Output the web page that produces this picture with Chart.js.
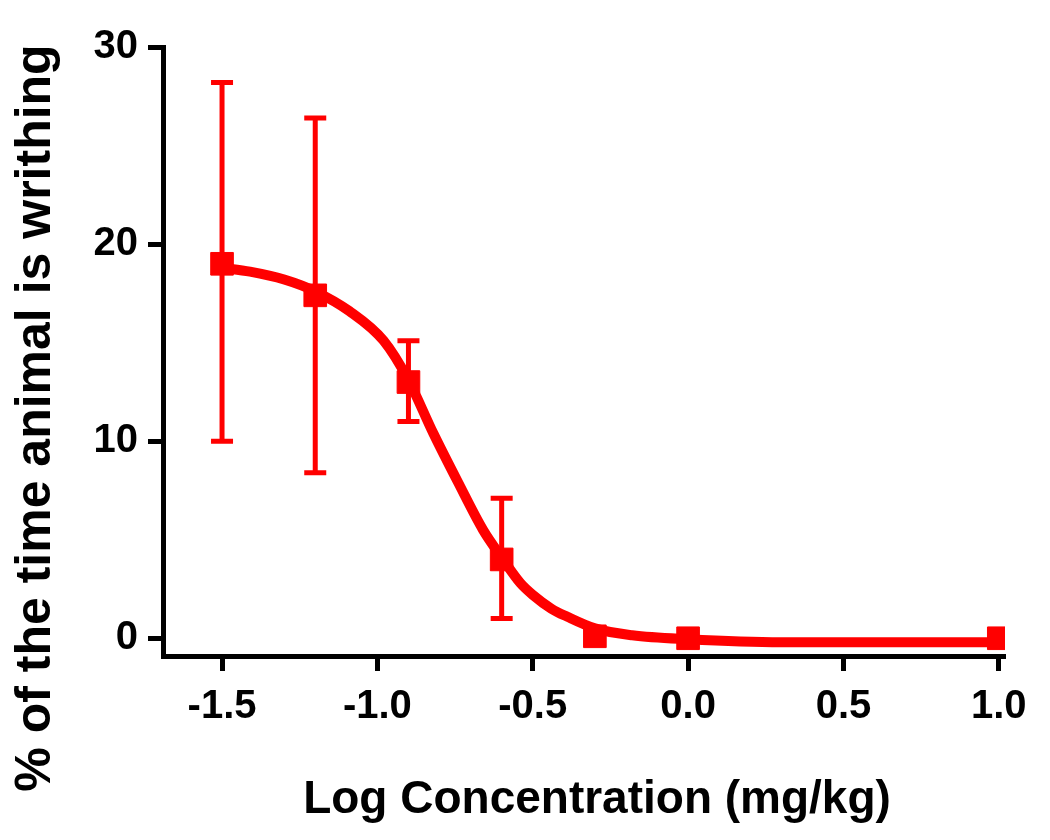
<!DOCTYPE html>
<html>
<head>
<meta charset="utf-8">
<script src="https://cdn.jsdelivr.net/npm/chart.js@4"></script>
<style>
  body { margin: 0; background: #fff; }
  #wrap { width: 1050px; height: 840px; }
</style>
</head>
<body>
<div id="wrap"><canvas id="dose-graph"></canvas></div>
<script>
// measured points (log dose vs % writhing)
const doseX = [-1.5, -1.2, -0.9, -0.6, -0.3, 0.0, 1.0];
const meanY = [19.0, 17.4, 13.0, 4.0, 0.1, 0.0, 0.0];
const errHigh = [28.2, 26.4, 15.1, 7.1, null, null, null];
const errLow = [10.0, 8.4, 11.0, 1.0, null, null, null];

// fitted curve
const curveX = [-1.5, -1.41, -1.3, -1.2, -1.09, -0.98, -0.9, -0.82, -0.74, -0.66, -0.6, -0.54, -0.5, -0.44, -0.39, -0.3, -0.18, 0.0, 0.3, 0.6, 1.0];
const curveY = [18.8, 18.6, 18.2, 17.6, 16.6, 15.1, 13.1, 10.4, 7.9, 5.5, 4.1, 2.8, 2.2, 1.5, 1.1, 0.5, 0.15, -0.05, -0.2, -0.2, -0.2];

const xTicks = [-1.5, -1.0, -0.5, 0.0, 0.5, 1.0];
const yTicks = [0, 10, 20, 30];

const xTitle = 'Log Concentration (mg/kg)';
const yTitle = '% of the time animal is writhing';

const red = '#ff0000';
const fontFamily = '"Liberation Sans", Arial, Helvetica, sans-serif';

const errorBars = {
    id: 'errorBars',
    beforeDatasetsDraw(chart) {
        const ctx = chart.ctx;
        const xs = chart.scales.x;
        const ys = chart.scales.y;
        ctx.save();
        ctx.strokeStyle = red;
        ctx.lineWidth = 5;
        doseX.forEach((d, i) => {
            if (errHigh[i] == null) return;
            const px = xs.getPixelForValue(d);
            const top = ys.getPixelForValue(errHigh[i]);
            const bot = ys.getPixelForValue(errLow[i]);
            ctx.beginPath();
            ctx.moveTo(px, top);
            ctx.lineTo(px, bot);
            ctx.moveTo(px - 11, top);
            ctx.lineTo(px + 11, top);
            ctx.moveTo(px - 11, bot);
            ctx.lineTo(px + 11, bot);
            ctx.stroke();
        });
        ctx.restore();
    }
};

// titles sit a bit off the axis middles in the original, so draw them by hand
const axisTitles = {
    id: 'axisTitles',
    afterDraw(chart) {
        const ctx = chart.ctx;
        ctx.save();
        ctx.fillStyle = '#000';
        ctx.textAlign = 'center';
        ctx.textBaseline = 'middle';
        ctx.font = 'bold 46px ' + fontFamily;
        ctx.fillText(xTitle, 597, 800);
        ctx.translate(36, 418);
        ctx.rotate(-Math.PI / 2);
        ctx.font = 'bold 50px ' + fontFamily;
        ctx.fillText(yTitle, 0, 0);
        ctx.restore();
    }
};

const canvas = document.getElementById('dose-graph');
const dose_graph = new Chart(canvas, {
    type: 'scatter',
    data: {
        datasets: [
            {
                label: 'Fit',
                type: 'line',
                data: curveX.map((x, i) => ({x: x, y: curveY[i]})),
                borderColor: red,
                borderWidth: 10,
                pointRadius: 0,
                cubicInterpolationMode: 'monotone',
                fill: false,
            },
            {
                label: 'Mean',
                data: doseX.map((x, i) => ({x: x, y: meanY[i]})),
                backgroundColor: red,
                borderColor: red,
                borderWidth: 1,
                pointStyle: 'rect',
                pointRadius: 16,
            },
        ]
    },
    options: {
        responsive: true,
        maintainAspectRatio: false,
        animation: false,
        layout: { padding: { top: 47, right: 45, left: 0, bottom: 0 } },
        plugins: {
            legend: { display: false },
            tooltip: { enabled: false },
        },
        scales: {
            x: {
                type: 'linear',
                min: -1.69,
                max: 1.02,
                afterBuildTicks: (scale) => { scale.ticks = xTicks.map(v => ({value: v})); },
                afterFit: (scale) => { scale.height = 184; },
                border: { display: true, color: '#000', width: 5 },
                grid: { drawOnChartArea: false, drawTicks: true, tickLength: 15, tickWidth: 5, tickColor: '#000' },
                ticks: {
                    color: '#000',
                    padding: 12,
                    font: { family: fontFamily, size: 40, weight: 'bold' },
                    callback: (v) => Number(v).toFixed(1),
                },
                title: { display: false },
            },
            y: {
                type: 'linear',
                min: -0.9,
                max: 30,
                afterBuildTicks: (scale) => { scale.ticks = yTicks.map(v => ({value: v})); },
                afterFit: (scale) => { scale.width = 163; },
                border: { display: true, color: '#000', width: 5 },
                grid: { drawOnChartArea: false, drawTicks: true, tickLength: 15, tickWidth: 5, tickColor: '#000' },
                ticks: {
                    color: '#000',
                    padding: 10,
                    font: { family: fontFamily, size: 40, weight: 'bold' },
                },
                title: { display: false },
            },
        },
    },
    plugins: [errorBars, axisTitles],
});
</script>
</body>
</html>
